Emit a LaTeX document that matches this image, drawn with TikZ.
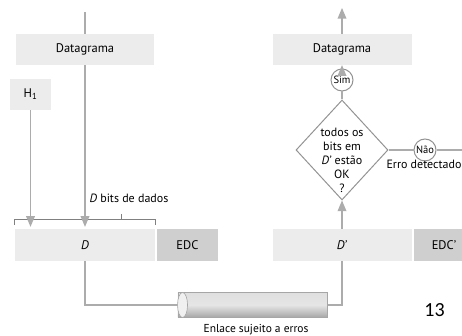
\documentclass[tikz,border=0pt]{standalone}
\usepackage{fontspec}
\setmainfont{PT Sans}
\newfontfamily\slidefont{Carlito}
\usetikzlibrary{calc}
\usetikzlibrary{shapes.geometric}
\usetikzlibrary{arrows,backgrounds,positioning}

\begin{document}
\begin{tikzpicture}[x=1pt,y=1pt,
  linecol/.style={draw=gray!65,line width=1.5pt},
  databox/.style={rectangle,fill=gray!15,minimum height=31pt,inner sep=0pt,font=\fontsize{12.5}{14}\selectfont},
  edcbox/.style={rectangle,fill=gray!38,minimum height=32pt,minimum width=61pt,inner sep=0pt,font=\fontsize{12.5}{14}\selectfont},
  answer/.style={circle,draw=gray!85,line width=1pt,fill=white,inner sep=0pt,minimum size=22pt,font=\fontsize{10.5}{12}\selectfont}]

\useasboundingbox (0,0) rectangle (462,336);
\coordinate (LEFTCORNER) at (0,0);

%%%%%%%%%%%%%%%%%%%
% sender side
\node[databox,minimum width=138pt] at ($(LEFTCORNER)+(85,286.5)$) (DATA1) {Datagrama};
\node[databox,minimum width=41pt] at ($(LEFTCORNER)+(30.5,241.5)$) (HEAD1) {H\textsubscript{1}};
\node[databox,minimum width=140pt,minimum height=32pt] at ($(LEFTCORNER)+(85,91)$) (DBOX) {\textit{D}};
\node[edcbox] at ($(LEFTCORNER)+(187.5,91)$) (EDC) {EDC};
\coordinate (TOPIN) at ($(LEFTCORNER)+(85,324)$);

% bracket over the data bits
\draw[gray,line width=1pt] ($(DBOX.north west)+(0,4)$) -- ++(0,5) -- ($(DBOX.north east)+(0,9)$) -- ++(0,-5);
\coordinate (BRACETIP) at ($(LEFTCORNER)+(121,116)$);
\draw[gray,line width=1pt] (BRACETIP) -- ++(0,6);
\node[font=\fontsize{12}{14}\selectfont] at ($(LEFTCORNER)+(129,138)$) (BITS) {\textit{D} bits de dados};

\draw[linecol] (TOPIN) -- (DATA1.north);
\draw[linecol,arrows=-triangle 45,shorten >=2pt] (DATA1.south) -- (DATA1.south |- DBOX.north);
\draw[linecol,arrows=-triangle 45,shorten >=2pt] (HEAD1.south) -- (HEAD1.south |- DBOX.north);

%%%%%%%%%%%%%%%%%%%
% link
\node[cylinder,shape border rotate=180,aspect=1.2,minimum height=149pt,minimum width=25pt,inner sep=0pt,
  draw=gray!70,line width=0.6pt,shading=axis,shading angle=0,top color=gray!25,bottom color=gray!70,middle color=gray!20] at ($(LEFTCORNER)+(252.5,31)$) (CABLE) {};
\fill[gray!12,draw=gray!70,line width=0.6pt] ($(CABLE.west)+(5,0)$) ellipse (5 and 12.5);
\node[font=\fontsize{11.5}{13}\selectfont] at ($(LEFTCORNER)+(256,6)$) (CABLELBL) {Enlace sujeito a erros};

%%%%%%%%%%%%%%%%%%%
% receiver side
\node[databox,minimum width=139pt] at ($(LEFTCORNER)+(342,286.5)$) (DATA2) {Datagrama};
\node[databox,minimum width=139pt,minimum height=32pt] at ($(LEFTCORNER)+(342,91)$) (DPRIME) {\textit{D'}};
\node[edcbox] at ($(LEFTCORNER)+(444,91)$) (EDCPRIME) {EDC'};
\coordinate (TOPOUT) at ($(LEFTCORNER)+(342,328)$);

\node[diamond,draw=gray!85,line width=1pt,minimum width=92pt,minimum height=100pt,inner sep=0pt] at ($(LEFTCORNER)+(342,186)$) (TEST) {};
\node[align=center,font=\fontsize{12}{14}\selectfont] at ($(TEST)+(0,-10)$) (TESTTXT) {todos os\\bits em\\\textit{D'} estão\\OK\\?};
\node[answer] at ($(LEFTCORNER)+(342,256)$) (SIM) {Sim};
\node[answer] at ($(LEFTCORNER)+(425,186)$) (NAO) {Não};
\node[font=\fontsize{12}{14}\selectfont] at ($(LEFTCORNER)+(424,172)$) (ERRO) {Erro detectado};
\coordinate (EDGE) at ($(LEFTCORNER)+(470,186)$);

\draw[linecol,arrows=-triangle 45] (DATA2.north) -- (TOPOUT);
\draw[linecol,arrows=-triangle 45] (SIM.north) -- (DATA2.south);
\draw[linecol] (TEST.north) -- (SIM.south);
\draw[linecol] (TEST.east) -- (NAO.west);
\draw[linecol] (NAO.east) -- (EDGE);
\draw[linecol,arrows=-triangle 45] (DPRIME.north) -- (TEST.south);

\begin{pgfonlayer}{background}
\draw[linecol] (DBOX.south) |- (CABLE.center) -| (DPRIME.south);
\end{pgfonlayer}

\node[font=\slidefont\fontsize{20}{24}\selectfont] at ($(LEFTCORNER)+(434.5,26)$) (PAGENUM) {13};

\end{tikzpicture}
\end{document}
